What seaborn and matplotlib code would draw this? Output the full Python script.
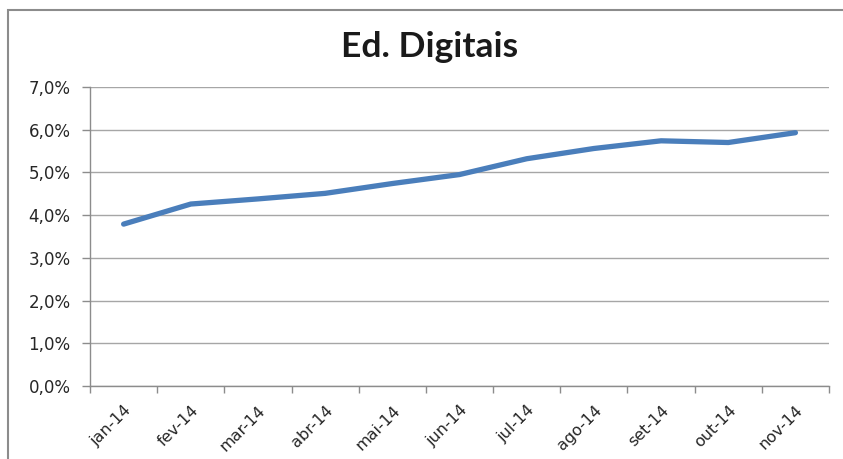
import matplotlib

matplotlib.use("Agg")

import matplotlib.pyplot as plt
import numpy as np
import pandas as pd
import seaborn as sns
from matplotlib.patches import Rectangle
from matplotlib.ticker import FixedLocator, FuncFormatter, MultipleLocator

months = ["jan-14", "fev-14", "mar-14", "abr-14", "mai-14", "jun-14",
          "jul-14", "ago-14", "set-14", "out-14", "nov-14"]
share = [3.79, 4.26, 4.38, 4.51, 4.74, 4.95, 5.32, 5.56, 5.74, 5.70, 5.93]

df = pd.DataFrame({"mes": months, "share": share})

sns.set_theme(style="white")
plt.rcParams["font.family"] = ["DejaVu Sans"]

fig = plt.figure(figsize=(8.43, 4.59), dpi=100)
ax = fig.add_axes([0.1068, 0.159, 0.8766, 0.6515])

sns.lineplot(data=df, x="mes", y="share", ax=ax, color="#4a7ebb",
             linewidth=3.8, solid_capstyle="round", sort=False)

ax.set_xlim(-0.5, len(months) - 0.5)
ax.set_ylim(0, 7)
ax.yaxis.set_major_locator(MultipleLocator(1))
ax.yaxis.set_major_formatter(
    FuncFormatter(lambda v, _: f"{v:.1f}%".replace(".", ","))
)
ax.grid(axis="y", color="#a6a6a6", linewidth=1)
ax.grid(axis="x", visible=False)
ax.set_axisbelow(True)

for side in ["top", "right"]:
    ax.spines[side].set_visible(False)
for side in ["left", "bottom"]:
    ax.spines[side].set_color("#8c8c8c")
    ax.spines[side].set_linewidth(1)

# category labels at centres, tick marks at boundaries (Excel style)
ax.set_xticks(np.arange(len(months)))
ax.set_xticklabels(months, rotation=45, ha="right", rotation_mode="anchor")
ax.xaxis.set_minor_locator(FixedLocator(np.arange(-0.5, len(months), 1)))
ax.tick_params(axis="x", which="major", length=0, pad=12, labelsize=11.5,
               labelcolor="#262626")
ax.tick_params(axis="x", which="minor", length=5, color="#8c8c8c",
               width=1, bottom=True)
ax.tick_params(axis="y", length=6, color="#8c8c8c", width=1, left=True,
               labelsize=12, labelcolor="#262626", pad=8)
ax.set_xlabel("")
ax.set_ylabel("")

fig.text(0.51, 0.897, "Ed. Digitais", ha="center", va="center",
         fontsize=25.5, fontweight="bold", family=["Lato", "DejaVu Sans"],
         color="#1a1a1a")

# outer chart frame (cropped on right and bottom in the original)
fig.patches.append(Rectangle((0.0095, -0.1), 1.2, 1.078,
                             transform=fig.transFigure, fill=False,
                             edgecolor="#8c8c8c", linewidth=1.5))

fig.savefig("out.png", dpi=100)
plt.close(fig)
